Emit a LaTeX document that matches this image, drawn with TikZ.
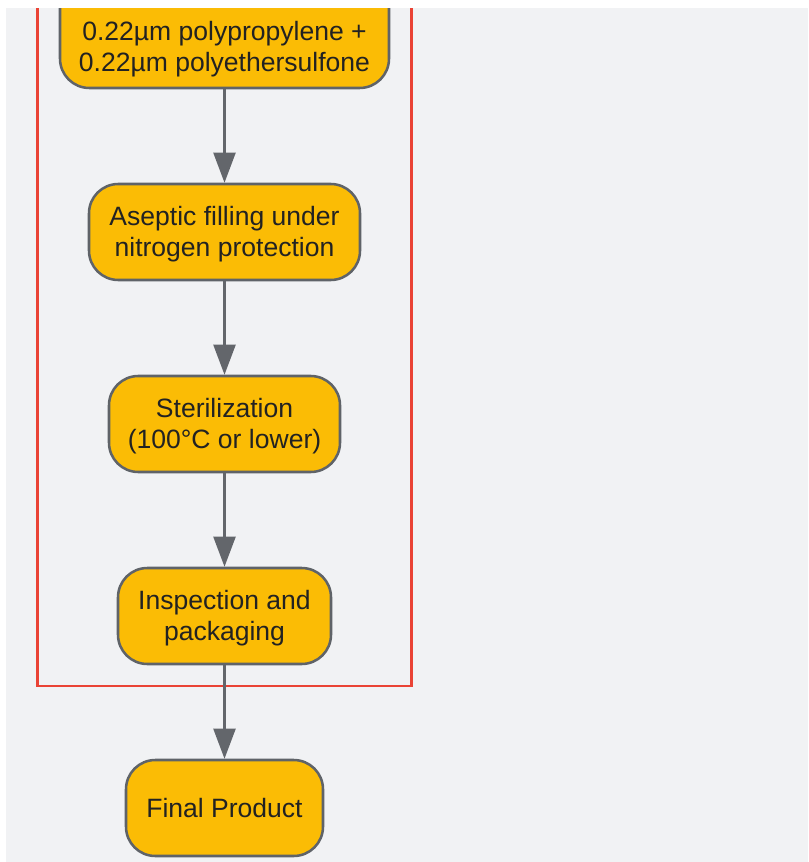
\documentclass[tikz,border=0pt]{standalone}
\usepackage{fontspec}
\setmainfont{Liberation Sans}
\usetikzlibrary{arrows.meta}
\definecolor{bgcol}{HTML}{F1F2F4}
\definecolor{boxfill}{HTML}{FBBC05}
\definecolor{boxline}{HTML}{5F6368}
\definecolor{arrowcol}{HTML}{63666B}
\definecolor{framecol}{HTML}{EA4335}
\definecolor{txtcol}{HTML}{222222}
\newcommand{\boxlines}[1]{\raisebox{-2.25pt}[\height][\depth]{\begin{tabular}{@{}c@{}}#1\end{tabular}}}
\begin{document}
\begin{tikzpicture}[x=0.75pt,y=-0.75pt,
  stepbox/.style={draw=boxline, line width=1.9pt, fill=boxfill, rounded corners=22pt,
    text=txtcol, inner sep=0pt,
    font=\fontsize{19.9pt}{23.25pt}\selectfont},
  flow/.style={draw=arrowcol, line width=1.6pt,
    -{Triangle[length=22.5pt,width=16.5pt]}},
  frame/.style={draw=framecol, line width=1.6pt}]
\useasboundingbox (0,0) rectangle (808,862);
\fill[white] (0,0) rectangle (808,862);
\fill[bgcol] (6,8) rectangle (808,862);
\draw[frame] (37.5,-30) rectangle (411.5,686);
\node[stepbox, minimum width=246.75pt, minimum height=85.5pt] (n1) at (224.5,31)
  {\boxlines{\phantom{g}\\0.22µm polypropylene +\\0.22µm polyethersulfone}};
\node[stepbox, minimum width=203.25pt, minimum height=72pt] (n2) at (224.5,232)
  {\boxlines{Aseptic filling under\\nitrogen protection}};
\node[stepbox, minimum width=173.25pt, minimum height=72pt] (n3) at (224.5,424)
  {\boxlines{Sterilization\\(100°C or lower)}};
\node[stepbox, minimum width=159.75pt, minimum height=72pt] (n4) at (224.5,616)
  {\boxlines{Inspection and\\packaging}};
\node[stepbox, minimum width=147.75pt, minimum height=72pt] (n5) at (224.5,808)
  {\boxlines{Final Product}};
\draw[flow] (n1.south) -- (n2.north);
\draw[flow] (n2.south) -- (n3.north);
\draw[flow] (n3.south) -- (n4.north);
\draw[flow] (n4.south) -- (n5.north);
\fill[white] (0,0) rectangle (808,8);
\end{tikzpicture}
\end{document}
